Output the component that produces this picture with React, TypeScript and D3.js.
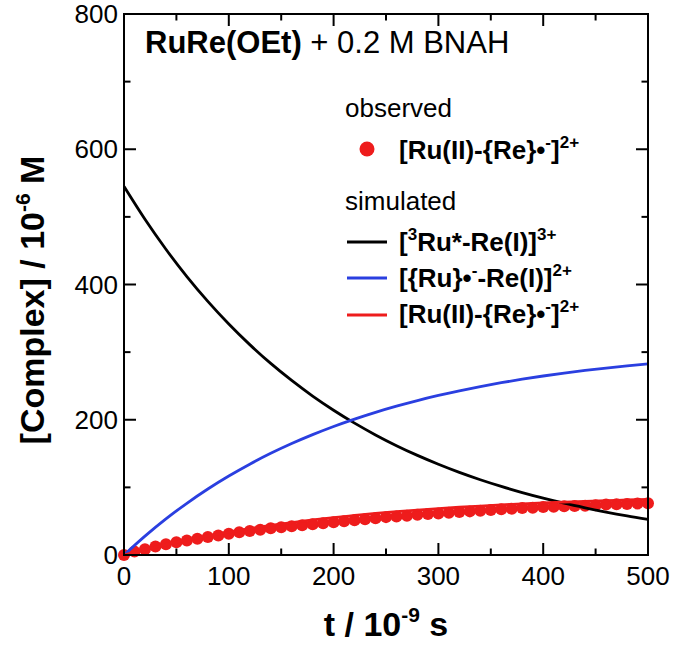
import React from "react";
import * as d3 from "d3";

const W = 673;
const H = 645;

// simulated curves, sampled every 20 ns
const simT = [0, 20, 40, 60, 80, 100, 120, 140, 160, 180, 200, 220, 240, 260, 280, 300, 320, 340, 360, 380, 400, 420, 440, 460, 480, 500];
const ruExcited = [545, 496.4, 452.1, 411.7, 375.0, 341.6, 311.1, 283.3, 258.1, 235.0, 214.1, 195.0, 177.6, 161.7, 147.3, 134.2, 122.2, 111.3, 101.4, 92.3, 84.1, 76.6, 69.8, 63.5, 57.8, 52.7];
const ruReduced = [0, 27.9, 53.4, 76.5, 97.6, 116.8, 134.3, 150.3, 164.8, 178.0, 190.1, 201.0, 211.0, 220.1, 228.4, 235.9, 242.8, 249.1, 254.8, 260.0, 264.7, 269.0, 272.9, 276.5, 279.8, 282.7];
const reReducedSim = [0, 8.1, 15.5, 22.3, 28.4, 34.0, 39.1, 43.7, 47.9, 51.8, 55.3, 58.4, 61.4, 64.0, 66.4, 68.6, 70.6, 72.4, 74.1, 75.6, 77.0, 78.2, 79.4, 80.4, 81.3, 82.2];

// observed, every 10 ns
const obsT = [0, 10, 20, 30, 40, 50, 60, 70, 80, 90, 100, 110, 120, 130, 140, 150, 160, 170, 180, 190, 200, 210, 220, 230, 240, 250, 260, 270, 280, 290, 300, 310, 320, 330, 340, 350, 360, 370, 380, 390, 400, 410, 420, 430, 440, 450, 460, 470, 480, 490, 500];
const reReducedObs = [0, 5, 8.5, 12.5, 16, 19, 21.5, 24, 26.5, 29, 31.5, 33.5, 35.5, 37.5, 39.5, 41, 42.5, 44, 45.5, 47, 48.5, 50, 51.5, 53, 54.5, 56, 57, 58, 59.5, 60.5, 61.5, 62.5, 63.5, 64.5, 65.5, 66.5, 67.5, 68.5, 69.5, 70, 71, 71.5, 72, 72.5, 73, 73.5, 74.5, 75, 75.5, 76, 76.5];

const xMajor = [0, 100, 200, 300, 400, 500];
const xMinor = [50, 150, 250, 350, 450];
const yMajor = [0, 200, 400, 600, 800];
const yMinor = [100, 300, 500, 700];

const BLACK = "#000000";
const BLUE = "#2a3fe0";
const RED = "#ee1c1c";
const FONT = "'Liberation Sans', Arial, Helvetica, sans-serif";

export default function App() {
  const left = 124, right = 648, top = 14, bottom = 555;
  const x = d3.scaleLinear().domain([0, 500]).range([left, right]);
  const y = d3.scaleLinear().domain([0, 800]).range([bottom, top]);

  const line = (vals: number[]) =>
    d3.line<number>()
      .x((_, i) => x(simT[i]))
      .y((v) => y(v))
      .curve(d3.curveMonotoneX)(vals) || "";

  const majorLen = 12, minorLen = 6.5;

  const sup = (s: string, key: string) => (
    <tspan key={key} dy={-11} fontSize={17}>{s}</tspan>
  );
  const back = (s: string, key: string) => (
    <tspan key={key} dy={11}>{s}</tspan>
  );

  return (
    <svg width={W} height={H} style={{ position: "absolute", left: 0, top: 0, background: "#fff" }} fontFamily={FONT}>
      {/* data */}
      <g>
        {obsT.map((t, i) => (
          <circle key={i} cx={x(t)} cy={y(reReducedObs[i])} r={6} fill={RED} />
        ))}
      </g>
      <path d={line(ruExcited)} fill="none" stroke={BLACK} strokeWidth={2.8} />
      <path d={line(ruReduced)} fill="none" stroke={BLUE} strokeWidth={2.8} />
      <path d={line(reReducedSim)} fill="none" stroke={RED} strokeWidth={2.8} />

      {/* frame */}
      <rect x={left} y={top} width={right - left} height={bottom - top} fill="none" stroke="#000" strokeWidth={2} />

      {/* x ticks */}
      {xMajor.map((t) => (
        <g key={"xM" + t}>
          <line x1={x(t)} x2={x(t)} y1={bottom} y2={bottom - majorLen} stroke="#000" strokeWidth={2} />
          <line x1={x(t)} x2={x(t)} y1={top} y2={top + majorLen} stroke="#000" strokeWidth={2} />
          <text x={x(t)} y={bottom + 30} textAnchor="middle" fontSize={26}>{t}</text>
        </g>
      ))}
      {xMinor.map((t) => (
        <g key={"xm" + t}>
          <line x1={x(t)} x2={x(t)} y1={bottom} y2={bottom - minorLen} stroke="#000" strokeWidth={2} />
          <line x1={x(t)} x2={x(t)} y1={top} y2={top + minorLen} stroke="#000" strokeWidth={2} />
        </g>
      ))}
      {/* y ticks */}
      {yMajor.map((v) => (
        <g key={"yM" + v}>
          <line x1={left} x2={left + majorLen} y1={y(v)} y2={y(v)} stroke="#000" strokeWidth={2} />
          <line x1={right} x2={right - majorLen} y1={y(v)} y2={y(v)} stroke="#000" strokeWidth={2} />
          <text x={left - 6} y={y(v) + 9} textAnchor="end" fontSize={26}>{v}</text>
        </g>
      ))}
      {yMinor.map((v) => (
        <g key={"ym" + v}>
          <line x1={left} x2={left + minorLen} y1={y(v)} y2={y(v)} stroke="#000" strokeWidth={2} />
          <line x1={right} x2={right - minorLen} y1={y(v)} y2={y(v)} stroke="#000" strokeWidth={2} />
        </g>
      ))}

      {/* axis titles */}
      <text x={(left + right) / 2} y={636} textAnchor="middle" fontSize={34} fontWeight="bold">
        <tspan>t / 10</tspan>
        <tspan dy={-14} fontSize={21}>-9</tspan>
        <tspan dy={14}> s</tspan>
      </text>
      <text transform={`translate(44, 300) rotate(-90)`} textAnchor="middle" fontSize={34} fontWeight="bold">
        <tspan>[Complex] / 10</tspan>
        <tspan dy={-14} fontSize={21}>-6</tspan>
        <tspan dy={14}> M</tspan>
      </text>

      {/* title */}
      <text x={145} y={53} fontSize={31}>
        <tspan fontWeight="bold">RuRe(OEt)</tspan>
        <tspan> + 0.2 M BNAH</tspan>
      </text>

      {/* legend */}
      <text x={345} y={117} fontSize={26}>observed</text>
      <circle cx={367} cy={149} r={7.5} fill={RED} />
      <text x={399} y={159} fontSize={26} fontWeight="bold">
        {[<tspan key="a">[Ru(II)-{"{"}Re{"}"}•</tspan>, sup("-", "b"), back("]", "c"), sup("2+", "d")]}
      </text>

      <text x={345} y={210} fontSize={26}>simulated</text>
      <line x1={347} x2={387} y1={242} y2={242} stroke={BLACK} strokeWidth={2.8} />
      <text x={399} y={251} fontSize={26} fontWeight="bold">
        {[<tspan key="a">[</tspan>, sup("3", "b"), back("Ru*-Re(I)]", "c"), sup("3+", "d")]}
      </text>
      <line x1={347} x2={387} y1={278} y2={278} stroke={BLUE} strokeWidth={2.8} />
      <text x={399} y={287} fontSize={26} fontWeight="bold">
        {[<tspan key="a">[{"{"}Ru{"}"}•</tspan>, sup("-", "b"), back("-Re(I)]", "c"), sup("2+", "d")]}
      </text>
      <line x1={347} x2={387} y1={315} y2={315} stroke={RED} strokeWidth={2.8} />
      <text x={399} y={323} fontSize={26} fontWeight="bold">
        {[<tspan key="a">[Ru(II)-{"{"}Re{"}"}•</tspan>, sup("-", "b"), back("]", "c"), sup("2+", "d")]}
      </text>
    </svg>
  );
}
